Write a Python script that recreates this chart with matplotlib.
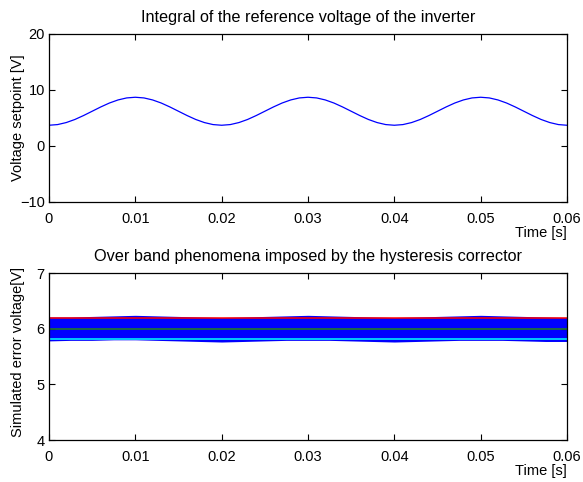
import matplotlib
matplotlib.use('Agg')
import matplotlib.pyplot as plt

plt.rcParams['font.family'] = ['Liberation Sans', 'DejaVu Sans']

# --- top panel: integral of reference voltage (1 ms step)
t_ref = [i / 1000 for i in range(61)]
v_ref = [3.70, 3.82, 4.18, 4.73, 5.43, 6.20, 6.97, 7.67, 8.22, 8.58,
         8.70, 8.58, 8.22, 7.67, 6.97, 6.20, 5.43, 4.73, 4.18, 3.82,
         3.70, 3.82, 4.18, 4.73, 5.43, 6.20, 6.97, 7.67, 8.22, 8.58,
         8.70, 8.58, 8.22, 7.67, 6.97, 6.20, 5.43, 4.73, 4.18, 3.82,
         3.70, 3.82, 4.18, 4.73, 5.43, 6.20, 6.97, 7.67, 8.22, 8.58,
         8.70, 8.58, 8.22, 7.67, 6.97, 6.20, 5.43, 4.73, 4.18, 3.82,
         3.70]

# --- bottom panel: switching band envelope (2.5 ms step) and hysteresis limits
t_band = [i * 0.0025 for i in range(25)]
band_hi = [6.21, 6.21, 6.22, 6.23, 6.24, 6.23, 6.22, 6.21, 6.20,
           6.21, 6.22, 6.23, 6.24, 6.23, 6.22, 6.21, 6.20,
           6.21, 6.22, 6.23, 6.24, 6.23, 6.22, 6.21, 6.20]
band_lo = [5.78, 5.79, 5.79, 5.80, 5.80, 5.79, 5.78, 5.77, 5.76,
           5.77, 5.78, 5.79, 5.79, 5.79, 5.78, 5.77, 5.76,
           5.77, 5.78, 5.79, 5.79, 5.79, 5.78, 5.77, 5.77]
lim_hi = 6.19
lim_mid = 6.00
lim_lo = 5.81

x_ticks = [0, 0.01, 0.02, 0.03, 0.04, 0.05, 0.06]
x_labels = ['0', '0.01', '0.02', '0.03', '0.04', '0.05', '0.06']

fig = plt.figure(figsize=(5.83, 4.82), dpi=100)
ax1 = fig.add_axes([0.084, 0.581, 0.8886, 0.3485])
ax2 = fig.add_axes([0.084, 0.0871, 0.8886, 0.3465])


def style(ax):
    ax.set_xlim(0, 0.06)
    ax.set_xticks(x_ticks)
    ax.set_xticklabels(x_labels)
    ax.tick_params(direction='in', length=4, width=0.8, top=True, right=True,
                   labelsize=10.5, pad=3)
    ax.tick_params(axis='x', pad=7)
    for s in ax.spines.values():
        s.set_linewidth(0.9)
    ax.set_xlabel('Time [s]', loc='right', fontsize=10.5, labelpad=0)


ax1.plot(t_ref, v_ref, color='blue', lw=0.9)
ax1.set_ylim(-10, 20)
ax1.set_yticks([-10, 0, 10, 20])
style(ax1)
ax1.set_ylabel('Voltage setpoint [V]', fontsize=10.5)
ax1.yaxis.set_label_coords(-0.047, 0.5)
ax1.set_title('Integral of the reference voltage of the inverter',
              fontsize=11.7, pad=8.5)

ax2.fill_between(t_band, band_lo, band_hi, color='blue', lw=0)
ax2.plot([0, 0.06], [lim_hi, lim_hi], color='red', lw=1.1)
ax2.plot([0, 0.06], [lim_mid, lim_mid], color='#1e6e3c', lw=1.3)
ax2.plot([0, 0.06], [lim_lo, lim_lo], color='cyan', lw=1.1)
ax2.set_ylim(4, 7)
ax2.set_yticks([4, 5, 6, 7])
style(ax2)
ax2.set_ylabel('Simulated error voltage[V]', fontsize=10.5)
ax2.yaxis.set_label_coords(-0.047, 0.53)
ax2.set_title('Over band phenomena imposed by the hysteresis corrector',
              fontsize=11.7, pad=8.5)

fig.savefig('out.png', dpi=100)
